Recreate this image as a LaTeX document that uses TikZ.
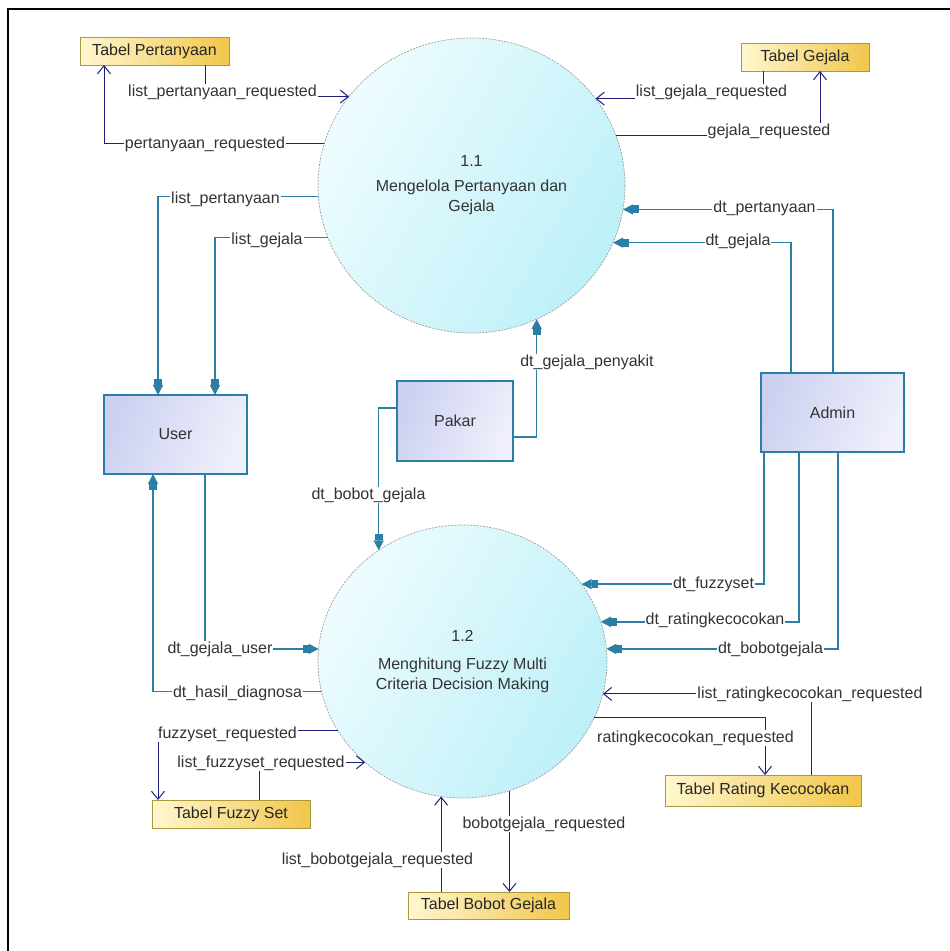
\documentclass[tikz,border=0pt]{standalone}
\usepackage{fontspec}
\setmainfont{Liberation Sans}
\usepackage{tikz}
\usetikzlibrary{shapes.geometric}
\usetikzlibrary{arrows.meta}

\definecolor{arusbiru}{HTML}{1E1E7C}
\definecolor{tosca}{HTML}{2B7FA6}
\definecolor{prosesa}{HTML}{EEFCFE}
\definecolor{prosesisi}{HTML}{BDF0F8}
\definecolor{entitasa}{HTML}{CCD1F1}
\definecolor{entitasb}{HTML}{EFF0FB}
\definecolor{tabela}{HTML}{FFF7CF}
\definecolor{tabelb}{HTML}{F1C64A}
\definecolor{tabelgaris}{HTML}{A99A3E}

\begin{document}
\begin{tikzpicture}[x=1pt, y=-1pt,
	font=\fontsize{16}{20}\selectfont,
	proses/.style={ellipse, draw=gray!75, dash pattern=on 2pt off 1.2pt, line width=0.7pt,
		left color=prosesa, right color=prosesisi, shading angle=60, align=center,
		inner sep=0pt, outer sep=0pt, text=black!80},
	entitas/.style={rectangle, draw=tosca, line width=1.2pt, left color=entitasa,
		right color=entitasb, shading angle=70, inner sep=0pt, outer sep=0pt, text=black!80},
	tabel/.style={rectangle, draw=tabelgaris, line width=1pt, left color=tabela,
		right color=tabelb, inner sep=0pt, outer sep=0pt, text=black!85},
	arus/.style={draw=arusbiru, line width=1pt, -{Straight Barb[length=8pt,width=13pt]}},
	alir/.style={draw=tosca, line width=1.4pt,
		-{Rectangle[length=6pt,width=8pt,sep=0pt]Triangle[length=10pt,width=10pt]}},
	ket/.style={fill=white, inner sep=1pt, text=black!80}]
	% Latar dan bingkai
	\fill[white] (0,0) rectangle (950,951);
	\useasboundingbox (0,0) rectangle (950,951);
	\draw[line width=2pt] (8,951) -- (8,9) -- (950,9);
	
	% Proses
	\node[proses, minimum width=307pt, minimum height=295pt] (p11) at (471.5,185.5)
		{1.1\\[5pt]Mengelola Pertanyaan dan\\Gejala};
	\node[proses, minimum width=289pt, minimum height=273pt] (p12) at (462.5,661.5)
		{1.2\\[8pt]Menghitung Fuzzy Multi\\Criteria Decision Making};
	
	% Entitas
	\node[entitas, minimum width=143pt, minimum height=79pt] (user) at (175.5,434.5) {User};
	\node[entitas, minimum width=116pt, minimum height=80pt] (pakar) at (455,421) {Pakar};
	\node[entitas, minimum width=143pt, minimum height=79pt] (admin) at (832.5,412.5) {Admin};
	
	% Tabel
	\node[tabel, minimum width=149pt, minimum height=28pt] (tpertanyaan) at (154.5,51) {Tabel Pertanyaan};
	\node[tabel, minimum width=128pt, minimum height=28pt] (tgejala) at (805,57) {Tabel Gejala};
	\node[tabel, minimum width=158pt, minimum height=28pt] (tfuzzy) at (231,814) {Tabel Fuzzy Set};
	\node[tabel, minimum width=161pt, minimum height=27pt] (tbobot) at (488.5,905.5) {Tabel Bobot Gejala};
	\node[tabel, minimum width=196pt, minimum height=31pt] (trating) at (763,790.5) {Tabel Rating Kecocokan};
	
	% Aliran data proses 1.1
	\draw[arus] (205,0 |- tpertanyaan.south) |- (p11.144.2);
	\draw[arus] (p11.164.7) -| (104,0 |- tpertanyaan.south);
	\draw[alir] (p11.184.7) -| (158,0 |- user.north);
	\draw[alir] (p11.200.9) -| (215,0 |- user.north);
	\draw[arus] (763,0 |- tgejala.south) |- (p11.35.8);
	\draw[arus] (p11.19.3) -| (820,0 |- tgejala.south);
	\draw[alir] (833,0 |- admin.north) |- (p11.351.6);
	\draw[alir] (791,0 |- admin.north) |- (p11.338.7);
	\draw[alir] (pakar.east |- 0,437) -| (p11.296.6);
	
	% Aliran data proses 1.2
	\draw[alir] (pakar.west |- 0,408) -| (p12.127.9);
	\draw[alir] (205,0 |- user.south) |- (p12.175);
	\draw[alir] (p12.192.6) -| (153,0 |- user.south);
	\draw[arus] (p12.209.7) -| (158,0 |- tfuzzy.north);
	\draw[arus] (259,0 |- tfuzzy.north) |- (p12.226.4);
	\draw[arus] (p12.290.7) -- (p12.290.7 |- tbobot.north);
	\draw[arus] (p12.261 |- tbobot.north) -- (p12.261);
	\draw[arus] (811,0 |- trating.north) |- (p12.347.8);
	\draw[arus] (p12.337.2) -| (765,0 |- trating.north);
	\draw[alir] (764,0 |- admin.south) |- (p12.33.1);
	\draw[alir] (799,0 |- admin.south) |- (p12.16.8);
	\draw[alir] (838,0 |- admin.south) |- (p12.5);
	
	% Keterangan aliran
	\node[ket] (k1) at (222.5,92) {list\_pertanyaan\_requested};
	\node[ket] (k2) at (205,144) {pertanyaan\_requested};
	\node[ket] (k3) at (225.5,199) {list\_pertanyaan};
	\node[ket] (k4) at (267,240) {list\_gejala};
	\node[ket] (k5) at (711.5,92) {list\_gejala\_requested};
	\node[ket] (k6) at (769,131) {gejala\_requested};
	\node[ket] (k7) at (764.5,208) {dt\_pertanyaan};
	\node[ket] (k8) at (738,241) {dt\_gejala};
	\node[ket] (k9) at (587,362) {dt\_gejala\_penyakit};
	\node[ket] (k10) at (368.5,495) {dt\_bobot\_gejala};
	\node[ket] (k11) at (220,649) {dt\_gejala\_user};
	\node[ket] (k12) at (237.5,693) {dt\_hasil\_diagnosa};
	\node[ket] (k13) at (227.5,734) {fuzzyset\_requested};
	\node[ket] (k14) at (261,763) {list\_fuzzyset\_requested};
	\node[ket] (k15) at (377.5,860) {list\_bobotgejala\_requested};
	\node[ket] (k16) at (544,824) {bobotgejala\_requested};
	\node[ket] (k17) at (810,694) {list\_ratingkecocokan\_requested};
	\node[ket] (k18) at (695.5,738) {ratingkecocokan\_requested};
	\node[ket] (k19) at (713.5,584) {dt\_fuzzyset};
	\node[ket] (k20) at (715,620) {dt\_ratingkecocokan};
	\node[ket] (k21) at (770.5,649) {dt\_bobotgejala};
\end{tikzpicture}
\end{document}
